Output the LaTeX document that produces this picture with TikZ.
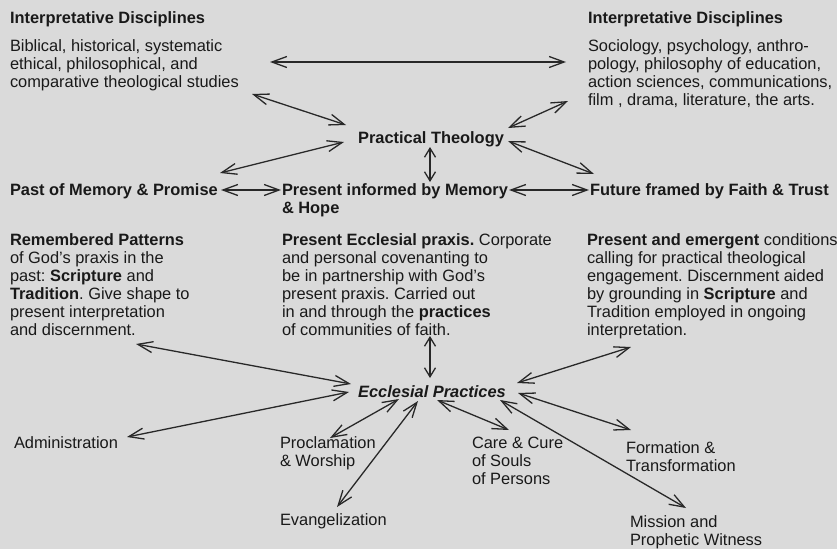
\documentclass[tikz,border=0pt]{standalone}
\usepackage{fontspec}
\setmainfont{Liberation Sans}
\usetikzlibrary{arrows.meta}
\frenchspacing
\definecolor{bg}{RGB}{218,218,218}
\definecolor{ink}{RGB}{25,25,25}
\definecolor{lin}{RGB}{40,40,40}
\tikzset{
  txt/.style={anchor=base west, inner sep=0pt, outer sep=0pt, align=left, text=ink,
              font=\fontsize{16.4}{18}\selectfont},
  hd/.style={txt, font=\fontsize{16.4}{18}\selectfont\bfseries},
  ctr/.style={anchor=base, inner sep=0pt, outer sep=0pt, text=ink,
              font=\fontsize{16.4}{18}\selectfont\bfseries},
  arr/.style={draw=lin, line width=1.3pt,
              {Straight Barb[length=15pt,width=11pt]}-{Straight Barb[length=15pt,width=11pt]}},
  sarr/.style={draw=lin, line width=1.3pt,
              {Straight Barb[length=9pt,width=11pt]}-{Straight Barb[length=9pt,width=11pt]}}
}
\begin{document}
\begin{tikzpicture}[x=1pt,y=-1pt]
\useasboundingbox (0,0) rectangle (837,549);
\fill[bg] (0,0) rectangle (837,549);

% multi-line nodes: base anchor = baseline of the last line
% top row
\node[hd] (idl) at (10,23) {Interpretative Disciplines};
\node[txt] (bib) at (10,87) {Biblical, historical, systematic\\ethical, philosophical, and\\comparative theological studies};
\node[hd] (idr) at (588,23) {Interpretative Disciplines};
\node[txt] (soc) at (588,105) {Sociology, psychology, anthro-\\pology, philosophy of education,\\action sciences, communications,\\film , drama, literature, the arts.};

\node[ctr] (pt) at (431,143) {Practical Theology};

% time row
\node[hd] (past) at (10,195) {Past of Memory \& Promise};
\node[hd] (pres) at (282,213) {Present informed by Memory\\\& Hope};
\node[hd] (fut) at (590,195) {Future framed by Faith \& Trust};

% blocks
\node[txt] (rem) at (10,335) {\textbf{Remembered Patterns}\\of God's praxis in the\\past: \textbf{Scripture} and\\\textbf{Tradition}. Give shape to\\present interpretation\\and discernment.};
\node[txt] (eccl) at (282,335) {\textbf{Present Ecclesial praxis.} Corporate\\and personal covenanting to\\be in partnership with God's\\present praxis. Carried out\\in and through the \textbf{practices}\\of communities of faith.};
\node[txt] (emer) at (587,335) {\textbf{Present and emergent} conditions\\calling for practical theological\\engagement. Discernment aided\\by grounding in \textbf{Scripture} and\\Tradition employed in ongoing\\interpretation.};

\node[ctr, font=\fontsize{16.4}{18}\selectfont\bfseries\itshape] (ep) at (432,397) {Ecclesial Practices};

% practices
\node[txt] (adm) at (14,448) {Administration};
\node[txt] (proc) at (280,466) {Proclamation\\\& Worship};
\node[txt] (care) at (472,484) {Care \& Cure\\of Souls\\of Persons};
\node[txt] (form) at (626,471) {Formation \&\\Transformation};
\node[txt] (evan) at (280,525) {Evangelization};
\node[txt] (miss) at (630,545) {Mission and\\Prophetic Witness};

% connector end points
\coordinate (bibR) at (270,62);   \coordinate (socL) at (566,62);
\coordinate (bibD) at (252,94);   \coordinate (ptNW) at (346,125);
\coordinate (ptSW) at (344,142);  \coordinate (pastU) at (220,173);
\coordinate (socD) at (568,101);  \coordinate (ptNE) at (508,128);
\coordinate (ptSE) at (508,141);  \coordinate (futU) at (594,174);
\coordinate (ptS) at (430,147);   \coordinate (presN) at (430,182);
\coordinate (pastR) at (221,190); \coordinate (presL) at (281,190);
\coordinate (presR) at (509,190); \coordinate (futL) at (589,190);
\coordinate (remD) at (136,344);  \coordinate (epW1) at (351,384);
\coordinate (admR) at (127,437);  \coordinate (epW2) at (349,392);
\coordinate (ecclS) at (430,336); \coordinate (epN) at (430,378);
\coordinate (epS1) at (399,399);  \coordinate (procN) at (330,438);
\coordinate (epS2) at (418,401);  \coordinate (evanN) at (337,507);
\coordinate (epS3) at (437,400);  \coordinate (careN) at (509,430);
\coordinate (epS4) at (500,400);  \coordinate (missN) at (686,508);
\coordinate (epE1) at (518,393);  \coordinate (formN) at (631,430);
\coordinate (epE2) at (517,383);  \coordinate (emerS) at (631,347);

\draw[arr] (bibR) -- (socL);
\draw[arr] (bibD) -- (ptNW);
\draw[arr] (ptSW) -- (pastU);
\draw[arr] (socD) -- (ptNE);
\draw[arr] (ptSE) -- (futU);
\draw[sarr] (ptS) -- (presN);
\draw[arr] (pastR) -- (presL);
\draw[arr] (presR) -- (futL);
\draw[arr] (remD) -- (epW1);
\draw[arr] (admR) -- (epW2);
\draw[sarr] (ecclS) -- (epN);
\draw[arr] (epS1) -- (procN);
\draw[arr] (epS2) -- (evanN);
\draw[arr] (epS3) -- (careN);
\draw[arr] (epS4) -- (missN);
\draw[arr] (epE1) -- (formN);
\draw[arr] (epE2) -- (emerS);
\end{tikzpicture}
\end{document}
